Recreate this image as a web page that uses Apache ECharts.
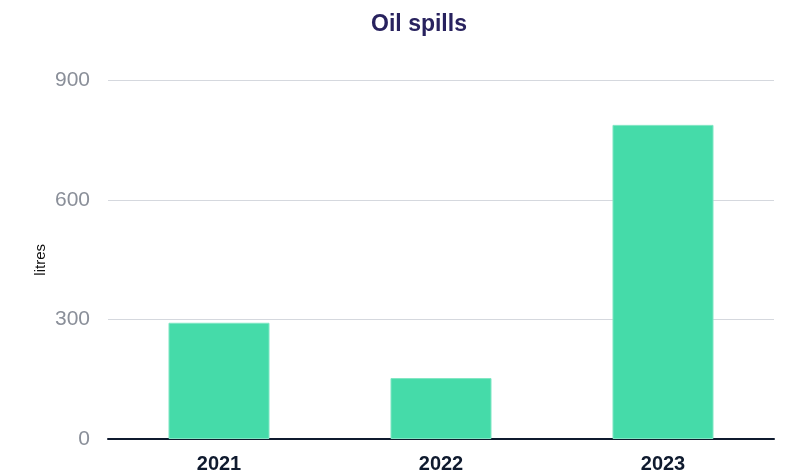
<!DOCTYPE html>
<html><head><meta charset="utf-8">
<script src="https://cdn.jsdelivr.net/npm/echarts@6/dist/echarts.min.js"></script>
<style>html,body{margin:0;padding:0;background:#fff}#c{width:789px;height:474px}</style>
</head><body><div id="c"></div>
<script>
const categories = ['2021', '2022', '2023'];
const values = [292, 153, 789];
const yTicks = [0, 300, 600, 900];

const chart = echarts.init(document.getElementById('c'));
chart.setOption({
  animation: false,
  title: {
    text: 'Oil spills',
    left: 414, top: 8, textAlign: 'center',
    textStyle: { fontFamily: 'Liberation Sans, Arial', fontWeight: 'bold', fontSize: 23, color: '#28225e' }
  },
  grid: { left: 108, right: 15, top: 80.7, bottom: 33.5, containLabel: false },
  xAxis: {
    type: 'category', data: categories,
    axisTick: { show: false },
    axisLine: { lineStyle: { color: '#0f1a2e', width: 2 } },
    axisLabel: { fontFamily: 'Liberation Sans, Arial', fontWeight: 'bold', fontSize: 20, color: '#0f1a2e', margin: 15 }
  },
  yAxis: {
    type: 'value', min: yTicks[0], max: yTicks[yTicks.length - 1], interval: 300,
    name: 'litres', nameLocation: 'middle', nameGap: 60, nameRotate: 90, nameMoveOverlap: false,
    nameTextStyle: { fontFamily: 'Liberation Sans, Arial', fontSize: 15, color: '#111' },
    axisLine: { show: false }, axisTick: { show: false },
    axisLabel: { fontFamily: 'Liberation Sans, Arial', fontSize: 21, color: '#8a8f99', margin: 18 },
    splitLine: { lineStyle: { color: '#d5d8de', width: 1 } }
  },
  series: [{
    type: 'bar', data: values, barWidth: '45.5%',
    itemStyle: { color: '#45dba9', borderColor: '#7fe6c3', borderWidth: 1 }
  }]
});
</script></body></html>
